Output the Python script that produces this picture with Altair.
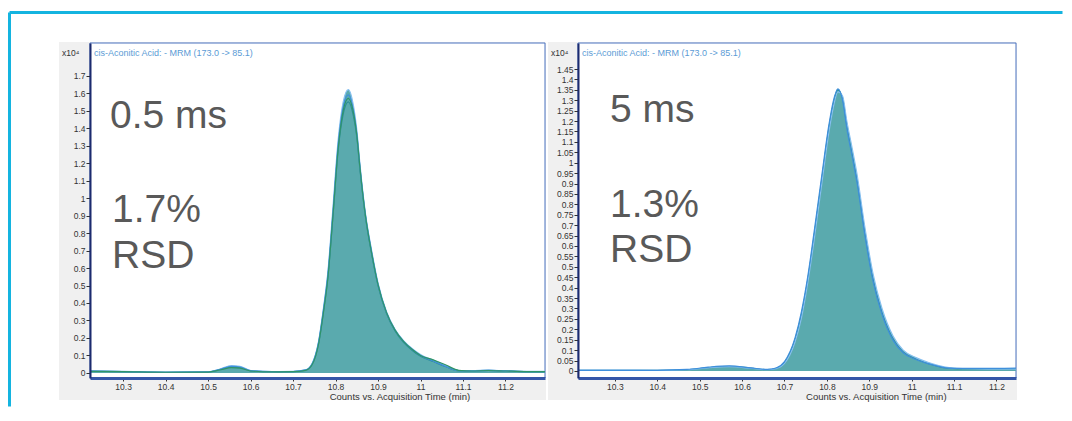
import altair as alt
import pandas as pd

# ---------------- data ----------------
L_TIME = [10.222, 10.30, 10.40, 10.50, 10.53, 10.555, 10.575, 10.60, 10.65, 10.70, 10.73, 10.745,
          10.76, 10.772, 10.782, 10.794, 10.806, 10.818, 10.83, 10.842, 10.85, 10.858, 10.87, 10.885,
          10.90, 10.92, 10.94, 10.96, 10.98, 11.00, 11.03, 11.06, 11.09, 11.12, 11.16, 11.20, 11.25, 11.293]
L_A = [0.010, 0.008, 0.004, 0.006, 0.020, 0.035, 0.032, 0.012, 0.007, 0.008, 0.016, 0.050,
       0.170, 0.360, 0.550, 0.900, 1.270, 1.480, 1.550, 1.470, 1.350, 1.150, 0.900, 0.680,
       0.500, 0.340, 0.240, 0.175, 0.130, 0.095, 0.065, 0.035, 0.012, 0.012, 0.015, 0.012, 0.008, 0.008]
L_B = [0.012, 0.009, 0.005, 0.007, 0.024, 0.042, 0.038, 0.014, 0.008, 0.009, 0.018, 0.055,
       0.180, 0.380, 0.580, 0.950, 1.330, 1.550, 1.620, 1.530, 1.390, 1.180, 0.920, 0.700,
       0.515, 0.350, 0.250, 0.185, 0.140, 0.105, 0.072, 0.040, 0.014, 0.013, 0.016, 0.012, 0.009, 0.009]
L_C = [0.010, 0.008, 0.004, 0.006, 0.022, 0.038, 0.034, 0.013, 0.007, 0.008, 0.017, 0.052,
       0.175, 0.370, 0.565, 0.925, 1.300, 1.520, 1.590, 1.500, 1.370, 1.165, 0.910, 0.690,
       0.505, 0.345, 0.245, 0.180, 0.135, 0.100, 0.068, 0.037, 0.013, 0.012, 0.015, 0.012, 0.008, 0.008]
L_D = [0.009, 0.007, 0.004, 0.005, 0.018, 0.030, 0.028, 0.011, 0.006, 0.007, 0.015, 0.048,
       0.165, 0.355, 0.545, 0.905, 1.280, 1.500, 1.570, 1.490, 1.360, 1.160, 0.905, 0.685,
       0.505, 0.345, 0.245, 0.180, 0.135, 0.100, 0.075, 0.045, 0.015, 0.011, 0.014, 0.011, 0.008, 0.008]

R_TIME = [10.213, 10.30, 10.40, 10.47, 10.52, 10.57, 10.62, 10.66, 10.68, 10.70, 10.725, 10.74,
          10.755, 10.77, 10.788, 10.805, 10.815, 10.826, 10.837, 10.847, 10.86, 10.871, 10.89,
          10.909, 10.93, 10.956, 10.98, 11.01, 11.04, 11.08, 11.12, 11.18, 11.246]
R_A = [0.003, 0.003, 0.003, 0.006, 0.016, 0.022, 0.014, 0.006, 0.012, 0.040, 0.150, 0.270,
       0.440, 0.650, 0.920, 1.170, 1.280, 1.350, 1.310, 1.180, 1.040, 0.920, 0.660,
       0.440, 0.280, 0.153, 0.090, 0.057, 0.035, 0.015, 0.010, 0.008, 0.008]
R_B = [0.004, 0.004, 0.003, 0.006, 0.015, 0.021, 0.013, 0.006, 0.011, 0.036, 0.140, 0.255,
       0.425, 0.630, 0.900, 1.150, 1.265, 1.340, 1.320, 1.200, 1.065, 0.945, 0.685,
       0.465, 0.300, 0.168, 0.100, 0.064, 0.040, 0.018, 0.011, 0.009, 0.009]
R_C = [0.003, 0.003, 0.003, 0.007, 0.018, 0.024, 0.015, 0.007, 0.014, 0.045, 0.160, 0.285,
       0.455, 0.670, 0.940, 1.185, 1.295, 1.355, 1.300, 1.165, 1.025, 0.905, 0.645,
       0.430, 0.272, 0.148, 0.087, 0.055, 0.034, 0.015, 0.012, 0.012, 0.013]

L_XTICKS = [10.3, 10.4, 10.5, 10.6, 10.7, 10.8, 10.9, 11.0, 11.1, 11.2, 11.3]
R_XTICKS = [10.3, 10.4, 10.5, 10.6, 10.7, 10.8, 10.9, 11.0, 11.1, 11.2]
L_YTICKS = [0, 0.1, 0.2, 0.3, 0.4, 0.5, 0.6, 0.7, 0.8, 0.9, 1.0, 1.1, 1.2, 1.3, 1.4, 1.5, 1.6, 1.7]
R_YTICKS = [0, 0.05, 0.1, 0.15, 0.2, 0.25, 0.3, 0.35, 0.4, 0.45, 0.5, 0.55, 0.6, 0.65, 0.7,
            0.75, 0.8, 0.85, 0.9, 0.95, 1.0, 1.05, 1.1, 1.15, 1.2, 1.25, 1.3, 1.35, 1.4, 1.45]

HEADER = "cis-Aconitic Acid: - MRM (173.0 -> 85.1)"
EXPONENT = "x10\u2074"
X_TITLE = "Counts vs. Acquisition Time (min)"
LEFT_LABELS = ["0.5 ms", "1.7%", "RSD"]
RIGHT_LABELS = ["5 ms", "1.3%", "RSD"]

# ---------------- style ----------------
FONT = "Liberation Sans"
FILL = "#5aaaae"
TRACE_COLORS = ["#2c8f95", "#86bff0", "#3f8fdc", "#2f9468"]
PANEL_BG = "#f0f0f0"
BORDER = "#4a72c0"
CYAN = "#14b4e0"
BIGTEXT = "#595959"

LW, LH = 455, 335
RW, RH = 438, 335


def long_df(time, series):
    rows = []
    for name, vals in series.items():
        for t, v in zip(time, vals):
            rows.append({"t": t, "v": v, "trace": name})
    return pd.DataFrame(rows)


def one(val="x"):
    return pd.DataFrame({"s": [val]})


def text_layer(s, x, y, size, color, baseline="alphabetic"):
    return alt.Chart(one(s)).mark_text(
        align="left", baseline=baseline, fontSize=size, color=color, font=FONT
    ).encode(x=alt.value(x), y=alt.value(y), text="s:N")


def rect_layer(x, x2, y, y2, **kw):
    return alt.Chart(one()).mark_rect(**kw).encode(
        x=alt.value(x), x2=alt.value(x2), y=alt.value(y), y2=alt.value(y2))


def panel(time, series, xdom, ydom, xticks, yticks, w, h, labels, label_pos, bg, extra=None):
    df = long_df(time, series)
    xenc = alt.X("t:Q", scale=alt.Scale(domain=xdom, nice=False, zero=False),
                 axis=alt.Axis(values=xticks, format="~g", title=X_TITLE, grid=False,
                               labelFontSize=8.5, labelFont=FONT, labelColor="#333333",
                               labelPadding=1, tickSize=3, tickColor="#333333",
                               domainColor="#3556a8", domainWidth=3, zindex=1,
                               titleFontSize=9.5, titleFont=FONT, titleFontWeight="normal",
                               titleColor="#333333", titleX=w * 0.68, titleY=21,
                               titleBaseline="alphabetic", titleAnchor="middle",
                               titleAlign="center"))
    yenc = alt.Y("v:Q", scale=alt.Scale(domain=ydom, nice=False, zero=False),
                 axis=alt.Axis(values=yticks, format="~g", title=None, grid=False,
                               labelFontSize=8.5, labelFont=FONT, labelColor="#333333",
                               labelPadding=1, tickSize=4, tickColor="#333333",
                               domainColor="#1c2b6e", domainWidth=2, zindex=1))
    names = list(series.keys())
    area = alt.Chart(df).mark_area(color=FILL, clip=True, interpolate="monotone", opacity=1).encode(
        x=xenc, y=yenc, y2=alt.datum(0), detail="trace:N")
    lines = alt.Chart(df).mark_line(clip=True, interpolate="monotone", strokeWidth=1.2).encode(
        x=xenc, y=yenc,
        color=alt.Color("trace:N", scale=alt.Scale(domain=names, range=TRACE_COLORS[:len(names)]),
                        legend=None))
    layers = [
        rect_layer(bg[0], bg[1], bg[2], bg[3], color=PANEL_BG),
        rect_layer(0, w, 0, h, fill="white", stroke=BORDER, strokeWidth=1),
        area, lines,
        text_layer(HEADER, 4, 10, 9, "#5b9bd5", baseline="middle"),
        text_layer(EXPONENT, bg[0] + 3, 10, 8.5, "#333333", baseline="middle"),
    ]
    for s, (x, y) in zip(labels, label_pos):
        layers.append(text_layer(s, x, y, 39, BIGTEXT))
    if extra:
        layers.extend(extra)
    return alt.layer(*layers).properties(width=w, height=h)


# slide frame (cyan border lines)
frame = [
    alt.Chart(one()).mark_rule(color=CYAN, strokeWidth=3).encode(
        x=alt.value(-80.5), x2=alt.value(972.5), y=alt.value(-30.5)),
    alt.Chart(one()).mark_rule(color=CYAN, strokeWidth=3).encode(
        x=alt.value(-80.5), y=alt.value(-30.5), y2=alt.value(363.5)),
]

left = panel(L_TIME, {"A": L_A, "B": L_B, "C": L_C, "D": L_D},
             [10.222, 11.293], [-0.029, 1.887], L_XTICKS, L_YTICKS, LW, LH,
             LEFT_LABELS, [(20, 85), (22, 179), (22, 225)], (-31, 456, -1, 357), extra=frame)
right = panel(R_TIME, {"A": R_A, "B": R_B, "C": R_C},
              [10.213, 11.246], [-0.034, 1.575], R_XTICKS, R_YTICKS, RW, RH,
              RIGHT_LABELS, [(32, 79), (32, 174), (32, 219)], (-30, 439, -1, 357))

chart = alt.hconcat(left, right, spacing=33, bounds="flush").properties(
    padding={"left": 0, "top": 3, "right": 0, "bottom": 0}
).configure_view(strokeWidth=0)

chart.save("out.html", embed_options={"renderer": "svg", "actions": False})
